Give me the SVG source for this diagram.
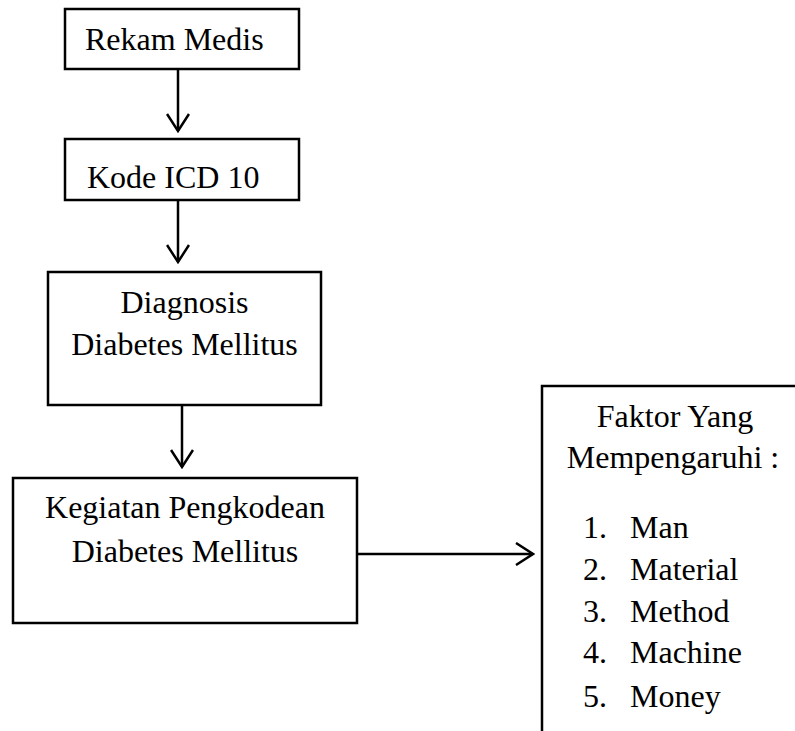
<svg xmlns="http://www.w3.org/2000/svg" width="795" height="731" viewBox="0 0 795 731">
<style>
.box{fill:#fff;stroke:#000;stroke-width:2.5}
.t{font-family:"Liberation Serif","Times New Roman",serif;font-size:32px;fill:#000}
.c{text-anchor:middle}
.ln{stroke:#000;stroke-width:2.5;fill:none}
</style>
<defs>
<marker id="ah" viewBox="0 0 20 24" refX="18" refY="12" markerWidth="20" markerHeight="24" markerUnits="userSpaceOnUse" orient="auto">
<path d="M1,1 L18,12 L1,23" fill="none" stroke="#000" stroke-width="2.5"/>
</marker>
</defs>
<rect width="795" height="731" fill="#fff"/>
<g id="connectors">
<line class="ln" x1="178" y1="69" x2="178" y2="131" marker-end="url(#ah)"/>
<line class="ln" x1="178" y1="200" x2="178" y2="262" marker-end="url(#ah)"/>
<line class="ln" x1="182" y1="405" x2="182" y2="467" marker-end="url(#ah)"/>
<line class="ln" x1="357" y1="554" x2="533" y2="554" marker-end="url(#ah)"/>
</g>
<g id="rekam">
<rect class="box" x="65" y="9" width="234" height="60"/>
<text class="t" x="85" y="50">Rekam Medis</text>
</g>
<g id="kode">
<rect class="box" x="65" y="139" width="234" height="61"/>
<text class="t" x="87" y="188">Kode ICD 10</text>
</g>
<g id="diagnosis">
<rect class="box" x="48" y="272" width="273" height="133"/>
<text class="t c" x="184.5" y="313">Diagnosis</text>
<text class="t c" x="184.5" y="355">Diabetes Mellitus</text>
</g>
<g id="kegiatan">
<rect class="box" x="13" y="478" width="344" height="145"/>
<text class="t c" x="185" y="518">Kegiatan Pengkodean</text>
<text class="t c" x="185" y="562">Diabetes Mellitus</text>
</g>
<g id="faktor">
<path class="ln" d="M542,735 L542,386 L800,386"/>
<text class="t c" x="675" y="427">Faktor Yang</text>
<text class="t c" x="673" y="468">Mempengaruhi :</text>
<text class="t" x="583" y="538">1.</text><text class="t" x="630" y="538">Man</text>
<text class="t" x="583" y="580">2.</text><text class="t" x="630" y="580">Material</text>
<text class="t" x="583" y="622">3.</text><text class="t" x="630" y="622">Method</text>
<text class="t" x="583" y="663">4.</text><text class="t" x="630" y="663">Machine</text>
<text class="t" x="583" y="707">5.</text><text class="t" x="630" y="707">Money</text>
</g>
</svg>
